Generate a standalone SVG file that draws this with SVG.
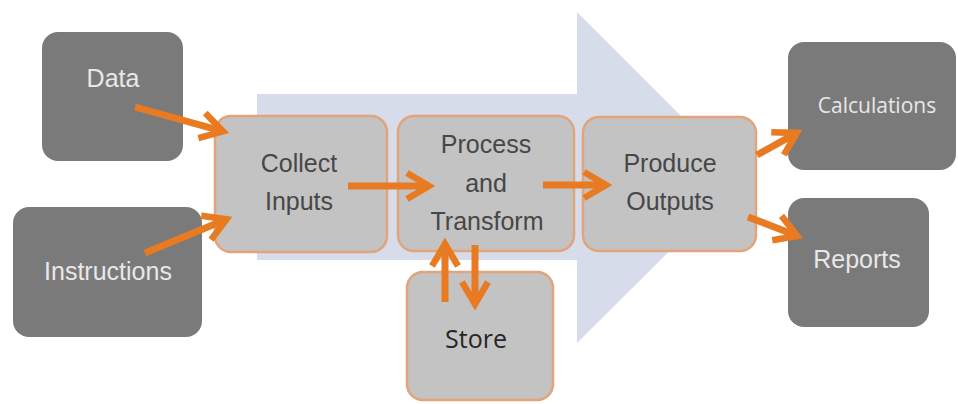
<svg xmlns="http://www.w3.org/2000/svg" width="958" height="404" viewBox="0 0 958 404">
<defs>
<style>
.dark{fill:#7a7a7a;}
.light{fill:#c3c3c3;stroke:#e2a47a;stroke-width:2.5;}
.lt{font-family:"Liberation Sans",Arial,sans-serif;font-size:25px;fill:#e8e8e8;text-anchor:middle;}
.lo{font-family:"Open Sans",sans-serif;font-size:21px;fill:#e8e8e8;text-anchor:middle;}
.dt{font-family:"Liberation Sans",Arial,sans-serif;font-size:25px;fill:#474747;text-anchor:middle;}
.ds{font-family:"Open Sans",sans-serif;font-size:25px;fill:#262626;text-anchor:middle;}
.conn{stroke:#e87a22;stroke-width:7;fill:none;marker-end:url(#chev);}
</style>
<marker id="chev" markerUnits="userSpaceOnUse" viewBox="0 0 30 30" markerWidth="30" markerHeight="30" refX="26" refY="15" orient="auto" overflow="visible">
<path d="M4,2 L26,15 L4,28" fill="none" stroke="#e87a22" stroke-width="6.5"/>
</marker>
</defs>
<rect width="958" height="404" fill="#ffffff"/>
<polygon id="bg-arrow" points="257,94 577,94 577,12 743,178 577,343 577,260 257,260" fill="#d6dcea"/>
<g id="data"><rect class="dark" x="42" y="32" width="141" height="129" rx="16"/><text class="lt" x="113" y="87">Data</text></g>
<g id="instructions"><rect class="dark" x="13" y="207" width="189" height="130" rx="16"/><text class="lt" x="108" y="280">Instructions</text></g>
<g id="calculations"><rect class="dark" x="788" y="42" width="168" height="128" rx="16"/><text class="lo" x="877" y="113">Calculations</text></g>
<g id="reports"><rect class="dark" x="788" y="198" width="141" height="129" rx="16"/><text class="lt" x="857" y="268">Reports</text></g>
<g id="collect"><rect class="light" x="215" y="116" width="172" height="136" rx="16"/><text class="dt" x="299" y="172">Collect</text><text class="dt" x="299" y="210">Inputs</text></g>
<g id="process"><rect class="light" x="398" y="116" width="176" height="135" rx="16"/><text class="dt" x="486" y="153">Process</text><text class="dt" x="486" y="192">and</text><text class="dt" x="487" y="230">Transform</text></g>
<g id="produce"><rect class="light" x="583" y="117" width="173" height="134" rx="16"/><text class="dt" x="670" y="172">Produce</text><text class="dt" x="670" y="210">Outputs</text></g>
<g id="store"><rect class="light" x="407" y="272" width="146" height="128" rx="16"/><text class="ds" x="476" y="348">Store</text></g>
<g id="connectors">
<line class="conn" x1="135" y1="107" x2="223" y2="131.4"/>
<line class="conn" x1="145" y1="253" x2="226.5" y2="219.3"/>
<line class="conn" x1="348" y1="186" x2="429" y2="186"/>
<line class="conn" x1="543" y1="185" x2="606" y2="185"/>
<line class="conn" x1="757" y1="155" x2="796.8" y2="132.9"/>
<line class="conn" x1="748" y1="217" x2="797.4" y2="235.9"/>
<line class="conn" x1="445" y1="302" x2="445" y2="244"/>
<line class="conn" x1="475" y1="245" x2="475" y2="304"/>
</g>
</svg>
